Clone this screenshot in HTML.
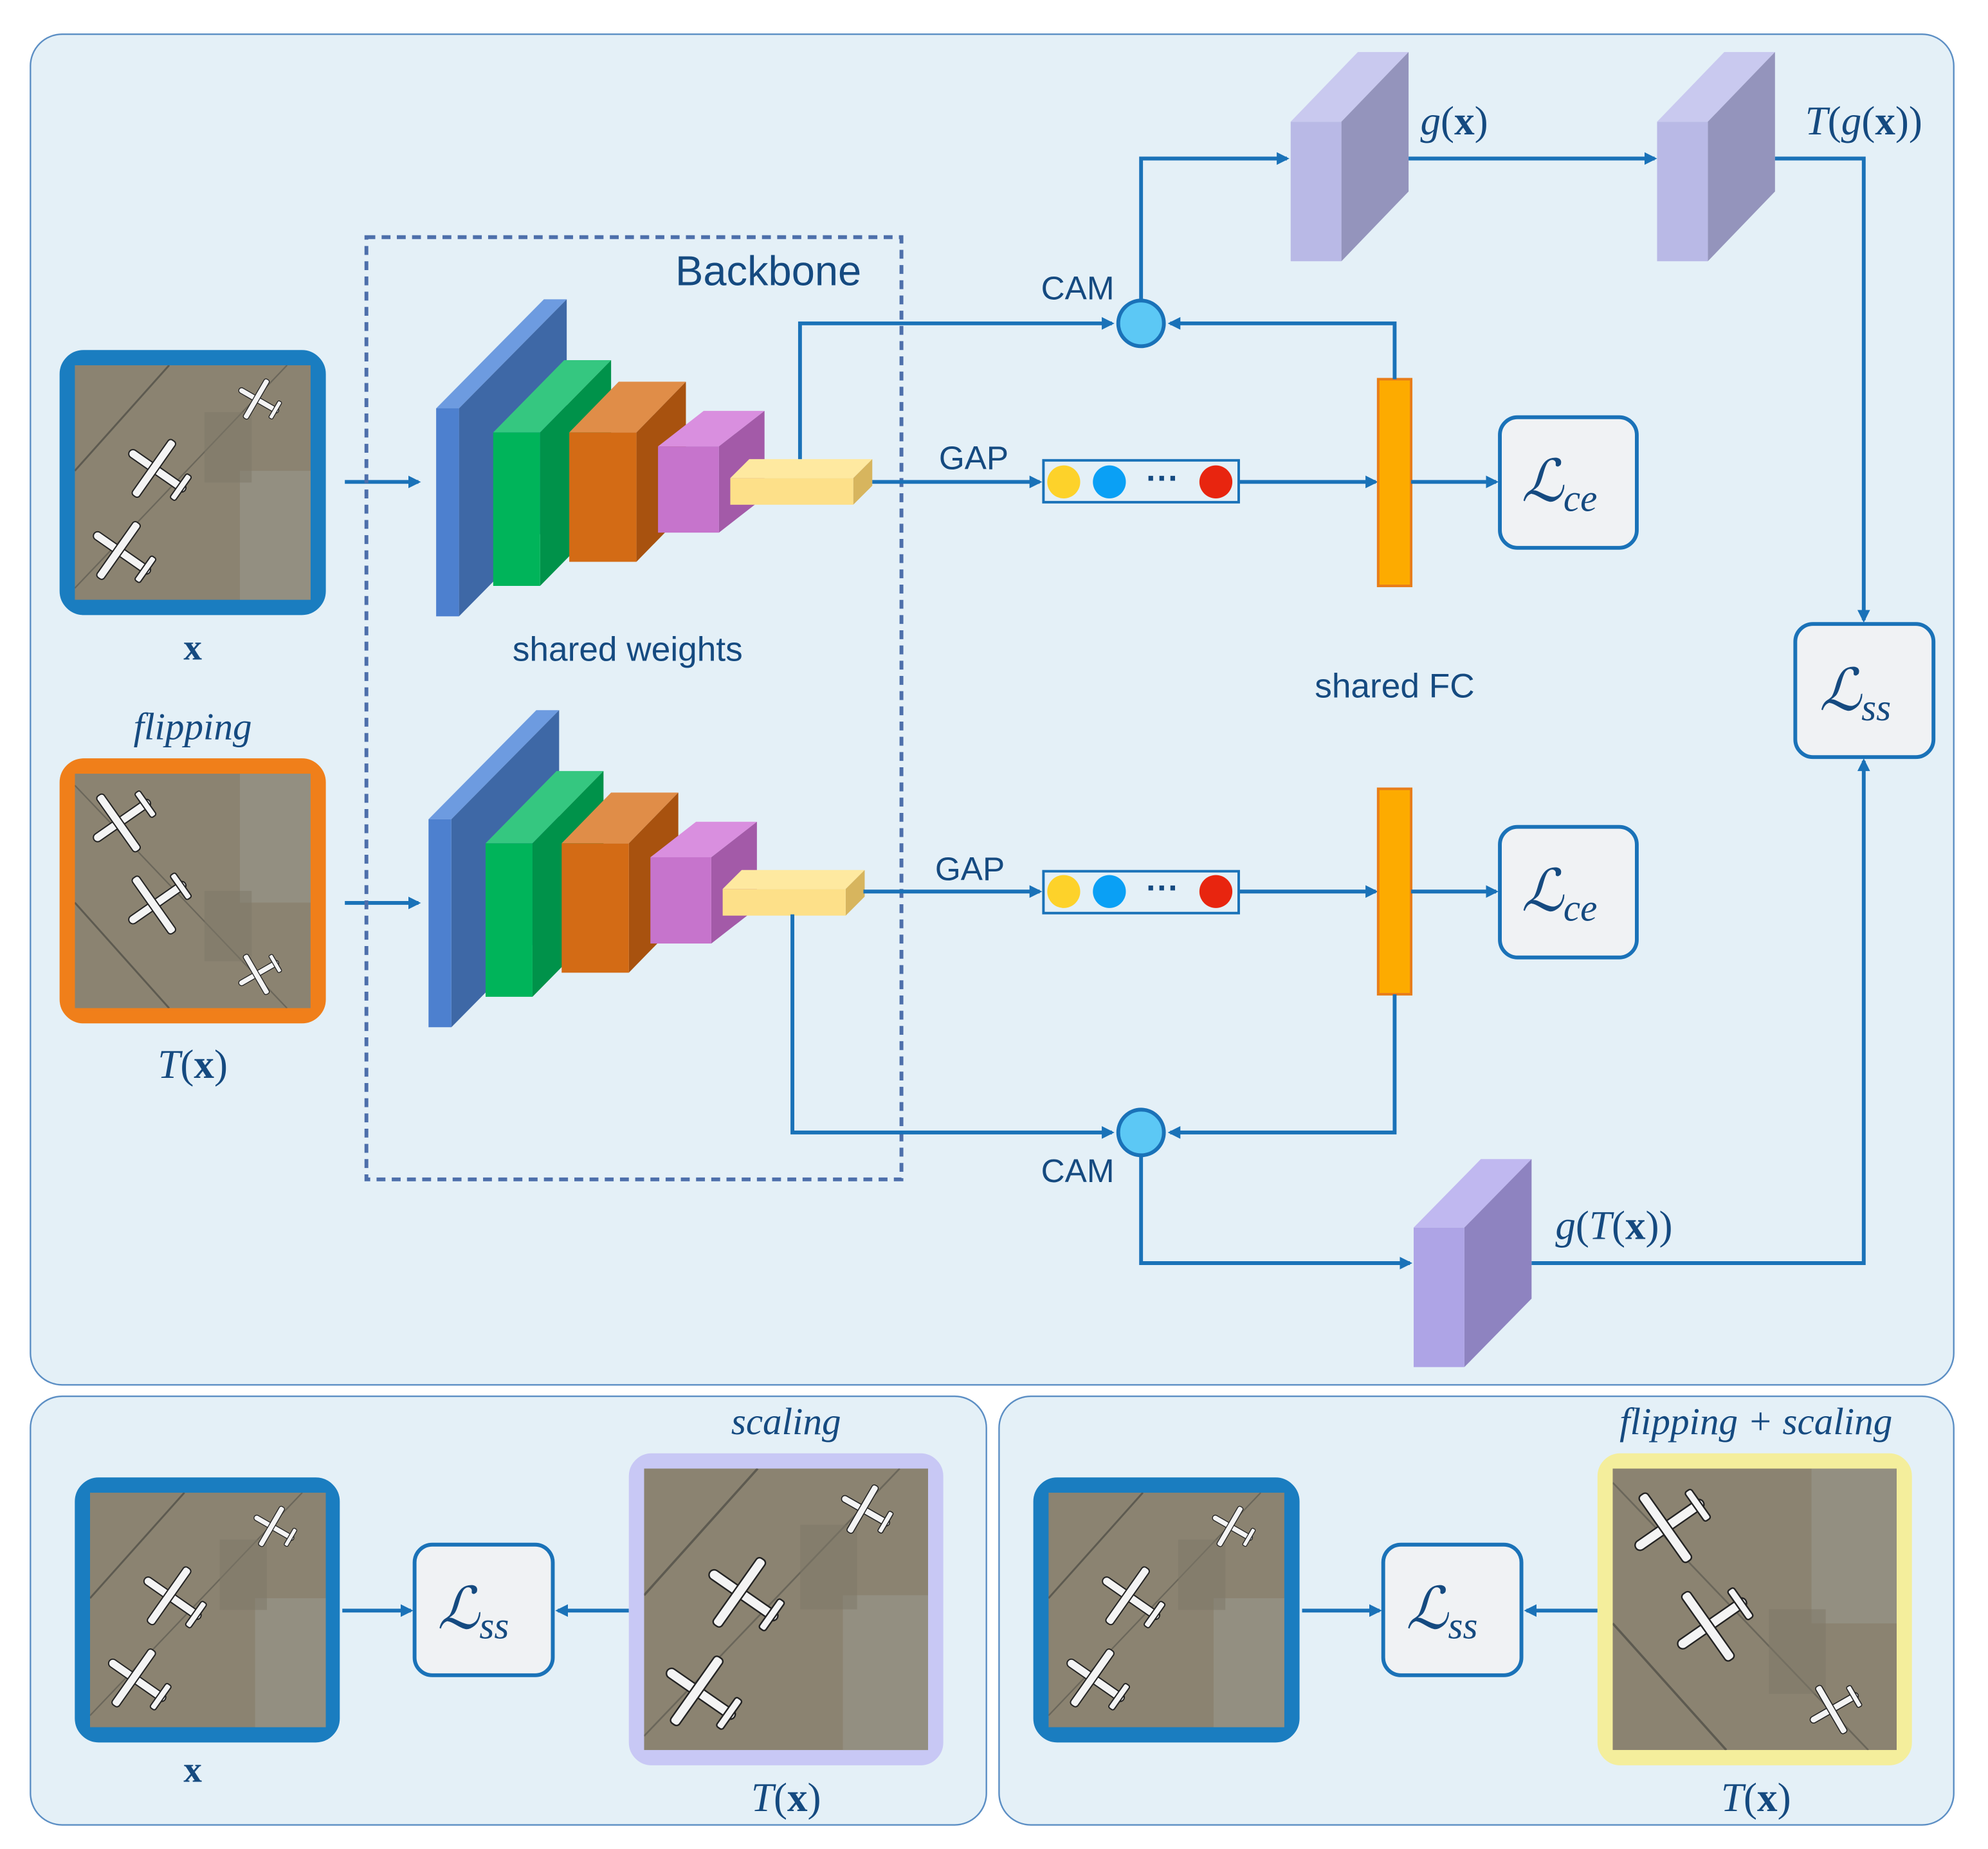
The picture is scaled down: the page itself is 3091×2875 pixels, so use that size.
<!DOCTYPE html>
<html><head><meta charset="utf-8"><style>
html,body{margin:0;padding:0;background:#fff}
svg{display:block}
.s{font-family:"Liberation Sans",sans-serif;fill:#154a80}
.m{font-family:"Liberation Serif",serif;fill:#154a80}
.ln{stroke:#1a72b8;stroke-width:3;fill:none}
</style></head><body>
<svg width="3091" height="2875" viewBox="0 0 1568 1458" preserveAspectRatio="none" xmlns="http://www.w3.org/2000/svg">
<defs>
<marker id="ah" markerWidth="10" markerHeight="10" refX="8" refY="5" orient="auto" markerUnits="userSpaceOnUse"><path d="M0,0 L10,5 L0,10 z" fill="#1a72b8"/></marker>
<g id="plane" fill="#f4f4f4" stroke="#222" stroke-width="0.6">
<rect x="-2" y="-16" width="4" height="32" rx="2"/>
<rect x="-16" y="-4" width="32" height="4" rx="1.5"/>
<rect x="-7" y="12" width="14" height="3" rx="1"/>
</g>
<symbol id="photo" viewBox="0 0 100 100" preserveAspectRatio="none">
<rect width="100" height="100" fill="#8b8371"/>
<path d="M0,45 L40,0" stroke="#5d5a50" stroke-width="0.8"/>
<path d="M0,95 L90,0" stroke="#6a665a" stroke-width="0.6"/>
<rect x="70" y="45" width="30" height="55" fill="#9a978c" opacity="0.6"/>
<rect x="55" y="20" width="20" height="30" fill="#7e7868" opacity="0.5"/>
<use href="#plane" transform="translate(78,15) rotate(-60) scale(0.6)"/>
<use href="#plane" transform="translate(35,45) rotate(-55) scale(0.9)"/>
<use href="#plane" transform="translate(20,80) rotate(-55) scale(0.9)"/>
</symbol>
<symbol id="photoF" viewBox="0 0 100 100" preserveAspectRatio="none">
<g transform="translate(0,100) scale(1,-1)"><use href="#photo" width="100" height="100"/></g>
</symbol>
</defs>

<rect x="24" y="27" width="1517" height="1065" rx="25" fill="#e4f0f7" stroke="#5b8ec4" stroke-width="1.2"/>
<rect x="24" y="1101" width="754" height="338" rx="25" fill="#e4f0f7" stroke="#5b8ec4" stroke-width="1.2"/>
<rect x="788" y="1101" width="753" height="338" rx="25" fill="#e4f0f7" stroke="#5b8ec4" stroke-width="1.2"/>

<rect x="52" y="281" width="200" height="199" rx="14" fill="#1a7dc0" stroke="#1a7dc0" stroke-width="10"/>
<use href="#photo" x="59" y="288" width="186" height="185"/>
<text x="152" y="520" class="m" font-size="29" font-weight="bold" text-anchor="middle">x</text>
<text x="152" y="583" class="m" font-size="30" font-style="italic" text-anchor="middle">flipping</text>
<rect x="52" y="603" width="200" height="199" rx="14" fill="#f07f1a" stroke="#f07f1a" stroke-width="10"/>
<use href="#photoF" x="59" y="610" width="186" height="185"/>
<text x="152" y="850" class="m" font-size="32" text-anchor="middle"><tspan font-style="italic">T</tspan>(<tspan font-weight="bold">x</tspan>)</text>
<line x1="272" y1="380" x2="330" y2="380" class="ln" marker-end="url(#ah)"/>
<line x1="272" y1="712" x2="330" y2="712" class="ln" marker-end="url(#ah)"/>

<rect x="289" y="187" width="422" height="743" fill="none" stroke="#4d6fab" stroke-width="3" stroke-dasharray="7,5"/>
<text x="606" y="225" class="s" font-size="33" text-anchor="middle">Backbone</text>
<text x="495" y="521" class="s" font-size="27" text-anchor="middle">shared weights</text>
<text x="1100" y="550" class="s" font-size="27" text-anchor="middle">shared FC</text>

<g id="net">
<polygon points="344,322 362,322 447,236 429,236" fill="#6d9be0"/>
<polygon points="362,322 447,236 447,400 362,486" fill="#3e68a6"/>
<rect x="344" y="322" width="18" height="164" fill="#4d80cf"/>
<polygon points="389,341 426,341 482,284 445,284" fill="#35c780"/>
<polygon points="426,341 482,284 482,405 426,462" fill="#00924a"/>
<rect x="389" y="341" width="37" height="121" fill="#00b45a"/>
<polygon points="449,341 502,341 541,301 488,301" fill="#e08d48"/>
<polygon points="502,341 541,301 541,403 502,443" fill="#a8520f"/>
<rect x="449" y="341" width="53" height="102" fill="#d36b15"/>
<polygon points="519,352 567,352 603,324 555,324" fill="#d98fdf"/>
<polygon points="567,352 603,324 603,392 567,420" fill="#a35aa8"/>
<rect x="519" y="352" width="48" height="68" fill="#c674cc"/>
<polygon points="576,377 673,377 688,362 591,362" fill="#fee9a0"/>
<polygon points="673,377 688,362 688,383 673,398" fill="#d7b55e"/>
<rect x="576" y="377" width="97" height="21" fill="#fde089"/>
</g>
<use href="#net" transform="translate(-6,324)"/>

<line x1="688" y1="380" x2="820" y2="380" class="ln" marker-end="url(#ah)"/>
<text x="768" y="370" class="s" font-size="26" text-anchor="middle">GAP</text>
<rect x="823" y="363" width="154" height="33" fill="#e4f0f7" stroke="#1a72b8" stroke-width="2"/>
<circle cx="839" cy="380" r="13" fill="#fdd22a"/><circle cx="875" cy="380" r="13" fill="#0aa0f5"/>
<text x="917" y="386" class="s" font-size="26" font-weight="bold" text-anchor="middle">···</text>
<circle cx="959" cy="380" r="13" fill="#e8250f"/>
<line x1="977" y1="380" x2="1085" y2="380" class="ln" marker-end="url(#ah)"/>
<rect x="1087" y="299" width="26" height="163" fill="#fdab00" stroke="#e87d1a" stroke-width="2"/>
<line x1="1113" y1="380" x2="1180" y2="380" class="ln" marker-end="url(#ah)"/>
<rect x="1183" y="329" width="108" height="103" rx="14" fill="#f0f2f4" stroke="#1a72b8" stroke-width="3"/>
<text x="1200" y="395" class="m" font-size="46" font-style="italic">ℒ<tspan font-size="30" dy="8">ce</tspan></text>

<polyline points="631,362 631,255 877,255" class="ln" marker-end="url(#ah)"/>
<polyline points="1100,299 1100,255 923,255" class="ln" marker-end="url(#ah)"/>
<polyline points="900,237 900,125 1015,125" class="ln" marker-end="url(#ah)"/>
<circle cx="900" cy="255" r="18" fill="#5cc8f5" stroke="#1a72b8" stroke-width="3"/>
<text x="850" y="236" class="s" font-size="26" text-anchor="middle">CAM</text>

<polygon points="1018,96 1058,96 1111,41 1071,41" fill="#c9c9ef"/>
<polygon points="1058,96 1111,41 1111,151 1058,206" fill="#9494bc"/>
<rect x="1018" y="96" width="40" height="110" fill="#b9b9e6"/>
<text x="1147" y="106" class="m" font-size="32" text-anchor="middle"><tspan font-style="italic">g</tspan>(<tspan font-weight="bold">x</tspan>)</text>
<line x1="1111" y1="125" x2="1305" y2="125" class="ln" marker-end="url(#ah)"/>
<polygon points="1307,96 1347,96 1400,41 1360,41" fill="#c9c9ef"/>
<polygon points="1347,96 1400,41 1400,151 1347,206" fill="#9494bc"/>
<rect x="1307" y="96" width="40" height="110" fill="#b9b9e6"/>
<text x="1470" y="106" class="m" font-size="32" text-anchor="middle"><tspan font-style="italic">T</tspan>(<tspan font-style="italic">g</tspan>(<tspan font-weight="bold">x</tspan>))</text>
<polyline points="1400,125 1470,125 1470,489" class="ln" marker-end="url(#ah)"/>
<rect x="1416" y="492" width="109" height="105" rx="14" fill="#f0f2f4" stroke="#1a72b8" stroke-width="3"/>
<text x="1435" y="560" class="m" font-size="46" font-style="italic">ℒ<tspan font-size="30" dy="8">ss</tspan></text>
<polyline points="1208,996 1470,996 1470,600" class="ln" marker-end="url(#ah)"/>

<line x1="681" y1="703" x2="820" y2="703" class="ln" marker-end="url(#ah)"/>
<text x="765" y="694" class="s" font-size="26" text-anchor="middle">GAP</text>
<rect x="823" y="687" width="154" height="33" fill="#e4f0f7" stroke="#1a72b8" stroke-width="2"/>
<circle cx="839" cy="703" r="13" fill="#fdd22a"/><circle cx="875" cy="703" r="13" fill="#0aa0f5"/>
<text x="917" y="709" class="s" font-size="26" font-weight="bold" text-anchor="middle">···</text>
<circle cx="959" cy="703" r="13" fill="#e8250f"/>
<line x1="977" y1="703" x2="1085" y2="703" class="ln" marker-end="url(#ah)"/>
<rect x="1087" y="622" width="26" height="162" fill="#fdab00" stroke="#e87d1a" stroke-width="2"/>
<line x1="1113" y1="703" x2="1180" y2="703" class="ln" marker-end="url(#ah)"/>
<rect x="1183" y="652" width="108" height="103" rx="14" fill="#f0f2f4" stroke="#1a72b8" stroke-width="3"/>
<text x="1200" y="718" class="m" font-size="46" font-style="italic">ℒ<tspan font-size="30" dy="8">ce</tspan></text>

<polyline points="625,721 625,893 877,893" class="ln" marker-end="url(#ah)"/>
<polyline points="1100,784 1100,893 923,893" class="ln" marker-end="url(#ah)"/>
<polyline points="900,911 900,996 1112,996" class="ln" marker-end="url(#ah)"/>
<circle cx="900" cy="893" r="18" fill="#5cc8f5" stroke="#1a72b8" stroke-width="3"/>
<text x="850" y="932" class="s" font-size="26" text-anchor="middle">CAM</text>
<polygon points="1115,968 1155,968 1208,914 1168,914" fill="#c0b8f0"/>
<polygon points="1155,968 1208,914 1208,1024 1155,1078" fill="#8e83c0"/>
<rect x="1115" y="968" width="40" height="110" fill="#aea4e6"/>
<text x="1273" y="977" class="m" font-size="32" text-anchor="middle"><tspan font-style="italic">g</tspan>(<tspan font-style="italic">T</tspan>(<tspan font-weight="bold">x</tspan>))</text>

<rect x="64" y="1170" width="199" height="199" rx="14" fill="#1a7dc0" stroke="#1a7dc0" stroke-width="10"/>
<use href="#photo" x="71" y="1177" width="186" height="185"/>
<text x="152" y="1405" class="m" font-size="29" font-weight="bold" text-anchor="middle">x</text>
<line x1="270" y1="1270" x2="324" y2="1270" class="ln" marker-end="url(#ah)"/>
<rect x="327" y="1218" width="109" height="103" rx="14" fill="#f0f2f4" stroke="#1a72b8" stroke-width="3"/>
<text x="345" y="1284" class="m" font-size="46" font-style="italic">ℒ<tspan font-size="30" dy="8">ss</tspan></text>
<line x1="496" y1="1270" x2="440" y2="1270" class="ln" marker-end="url(#ah)"/>
<rect x="500" y="1150" width="240" height="238" rx="14" fill="#c8c8f5" stroke="#c8c8f5" stroke-width="8"/>
<use href="#photo" x="508" y="1158" width="224" height="222"/>
<text x="620" y="1131" class="m" font-size="30" font-style="italic" text-anchor="middle">scaling</text>
<text x="620" y="1428" class="m" font-size="32" text-anchor="middle"><tspan font-style="italic">T</tspan>(<tspan font-weight="bold">x</tspan>)</text>

<rect x="820" y="1170" width="200" height="199" rx="14" fill="#1a7dc0" stroke="#1a7dc0" stroke-width="10"/>
<use href="#photo" x="827" y="1177" width="186" height="185"/>
<line x1="1027" y1="1270" x2="1088" y2="1270" class="ln" marker-end="url(#ah)"/>
<rect x="1091" y="1218" width="109" height="103" rx="14" fill="#f0f2f4" stroke="#1a72b8" stroke-width="3"/>
<text x="1109" y="1284" class="m" font-size="46" font-style="italic">ℒ<tspan font-size="30" dy="8">ss</tspan></text>
<line x1="1260" y1="1270" x2="1204" y2="1270" class="ln" marker-end="url(#ah)"/>
<rect x="1264" y="1150" width="240" height="238" rx="14" fill="#f4ee9c" stroke="#f4ee9c" stroke-width="8"/>
<use href="#photoF" x="1272" y="1158" width="224" height="222"/>
<text x="1385" y="1131" class="m" font-size="30" font-style="italic" text-anchor="middle">flipping + scaling</text>
<text x="1385" y="1428" class="m" font-size="32" text-anchor="middle"><tspan font-style="italic">T</tspan>(<tspan font-weight="bold">x</tspan>)</text>
</svg>
</body></html>
